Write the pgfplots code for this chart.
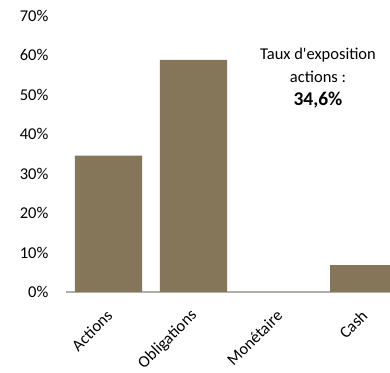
\documentclass[border=0pt]{standalone}
\usepackage{fontspec}
\setmainfont{Carlito}[Ligatures=TeXOff]
\usepackage{pgfplots}
\pgfplotsset{compat=1.18}
\definecolor{barc}{RGB}{133,118,89}
\definecolor{axc}{RGB}{180,175,165}
\begin{document}
\begin{tikzpicture}[font=\fontsize{16.5bp}{19bp}\selectfont]
\path[use as bounding box] (0,0) rectangle (390bp,373bp);
\begin{axis}[
  at={(66bp,81bp)}, anchor=south west, scale only axis,
  width=324bp, height=276bp,
  xmin=-0.5, xmax=3.31, ymin=0, ymax=0.7,
  axis x line=bottom, axis y line=left,
  x axis line style={axc, line width=1.2bp, -},
  y axis line style={draw=none},
  major tick length=0pt,
  ytick={0,0.1,0.2,0.3,0.4,0.5,0.6,0.7},
  yticklabels={0\%,10\%,20\%,30\%,40\%,50\%,60\%,70\%},
  yticklabel style={anchor=east, inner sep=0pt, xshift=-17.5bp},
  xtick={0,1,2,3},
  xticklabels={Actions,Obligations,Monétaire,Cash},
  xticklabel style={xshift=1bp, yshift=-21bp, rotate=45, anchor=east, inner sep=0pt},
  clip=true,
]
\addplot[ybar, bar width=0.79, bar shift=0pt, fill=barc, draw=none]
  coordinates {(0,0.346) (1,0.589) (2,0) (3,0.068)};
\end{axis}
\node[align=center, anchor=north, inner sep=0pt, font=\fontsize{16.5bp}{23bp}\selectfont] at (318bp,325bp)
  {Taux d'exposition\\actions :\\{\fontsize{19.5bp}{23bp}\selectfont\bfseries 34,6\%}};
\end{tikzpicture}
\end{document}
